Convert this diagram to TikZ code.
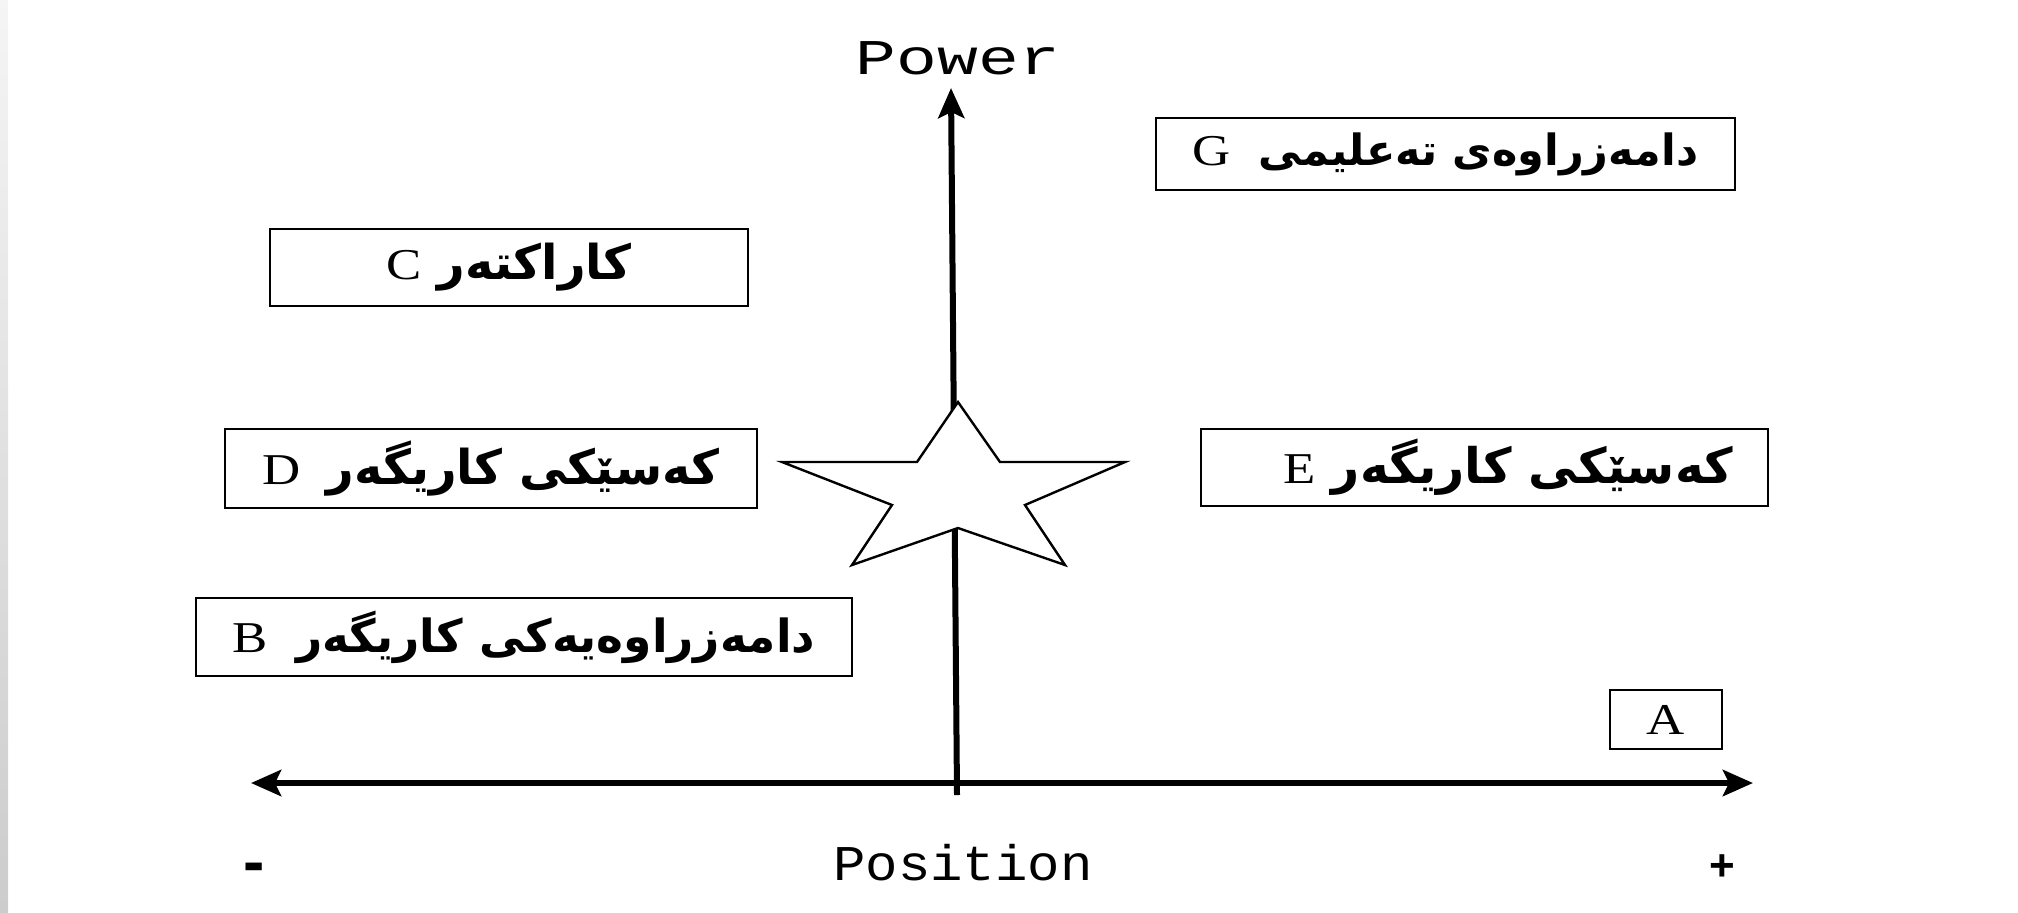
\documentclass[tikz,border=0pt]{standalone}
\usepackage{fontspec}
\setmainfont{Liberation Serif}
\newfontfamily\kufont[Script=Arabic]{DejaVu Sans}
\newfontfamily\letfont[FakeStretch=1.2]{Liberation Serif}
\newfontfamily\powfont[FakeStretch=1.36]{Liberation Mono}
\newfontfamily\posfont[FakeStretch=1.08]{Liberation Mono}
\newfontfamily\signfont{Liberation Sans}
\TeXXeTstate=1
\newcommand{\kutext}[2][22]{{\kufont\bfseries\fontsize{#1}{#1}\selectfont\beginR #2\endR}}
\usetikzlibrary{shapes.geometric, arrows.meta, positioning}

\begin{document}
\begin{tikzpicture}[x=0.5pt, y=-0.5pt]
\tikzstyle{box} = [rectangle, draw=black, line width=1.3pt, inner sep=0pt, font=\letfont\fontsize{22}{26}\selectfont]
\tikzstyle{axis} = [line width=3pt, -{Stealth[length=15pt, width=13pt, inset=3pt]}]
\tikzstyle{axislabel} = [font=\powfont\fontsize{25}{30}\selectfont]

\useasboundingbox (0,0) rectangle (2018,912);
\shade [top color=gray!8, bottom color=gray!40] (0,0) rectangle (8,912);

% axes
\coordinate (ybase) at (957,795);
\coordinate (ytip) at (951,88);
\coordinate (xleft) at (251,783);
\coordinate (xright) at (1753,783);

\draw [axis] (ybase) -- (ytip);
\draw [axis, {Stealth[length=15pt, width=13pt, inset=3pt]}-{Stealth[length=15pt, width=13pt, inset=3pt]}] (xleft) -- (xright);

% star
\draw [line width=1.2pt, fill=white, line join=miter]
  (958,402) -- (1000,462) -- (1125,462) -- (1025,505) -- (1065,565) -- (958,528)
  -- (852,565) -- (892,505) -- (782,462) -- (917,462) -- cycle;

\node (power) [axislabel] at (958,58) {Power};
\node (position) [font=\posfont\fontsize{25}{30}\selectfont] at (963,863) {Position};
\node (minus) [anchor=base, font=\signfont\bfseries\fontsize{32}{34}\selectfont] at (254,883) {-};
\node (plus) [anchor=base, font=\signfont\bfseries\fontsize{22}{26}\selectfont] at (1722,880) {+};

\node (g) [box, minimum width=289.5pt, minimum height=36pt] at (1445.5,154) {G\hspace{14pt}\kutext[21.5]{دامەزراوەی تەعلیمی}};
\node (c) [box, minimum width=239pt, minimum height=38.5pt] at (509,267.5) {C\hspace{8pt}\kutext[24]{کاراکتەر}};
\node (d) [box, minimum width=266pt, minimum height=39.5pt] at (491,468.5) {D\hspace{13pt}\kutext[24]{کەسێکی کاریگەر}};
\node (e) [box, minimum width=283.5pt, minimum height=38.5pt] at (1484.5,467.5) {\hspace{24pt}E\hspace{8pt}\kutext[24.5]{کەسێکی کاریگەر}};
\node (b) [box, minimum width=328pt, minimum height=39pt] at (524,637) {B\hspace{14pt}\kutext[22.8]{دامەزراوەیەکی کاریگەر}};
\node (a) [box, minimum width=56pt, minimum height=29.5pt] at (1666,719.5) {A};
\end{tikzpicture}
\end{document}
